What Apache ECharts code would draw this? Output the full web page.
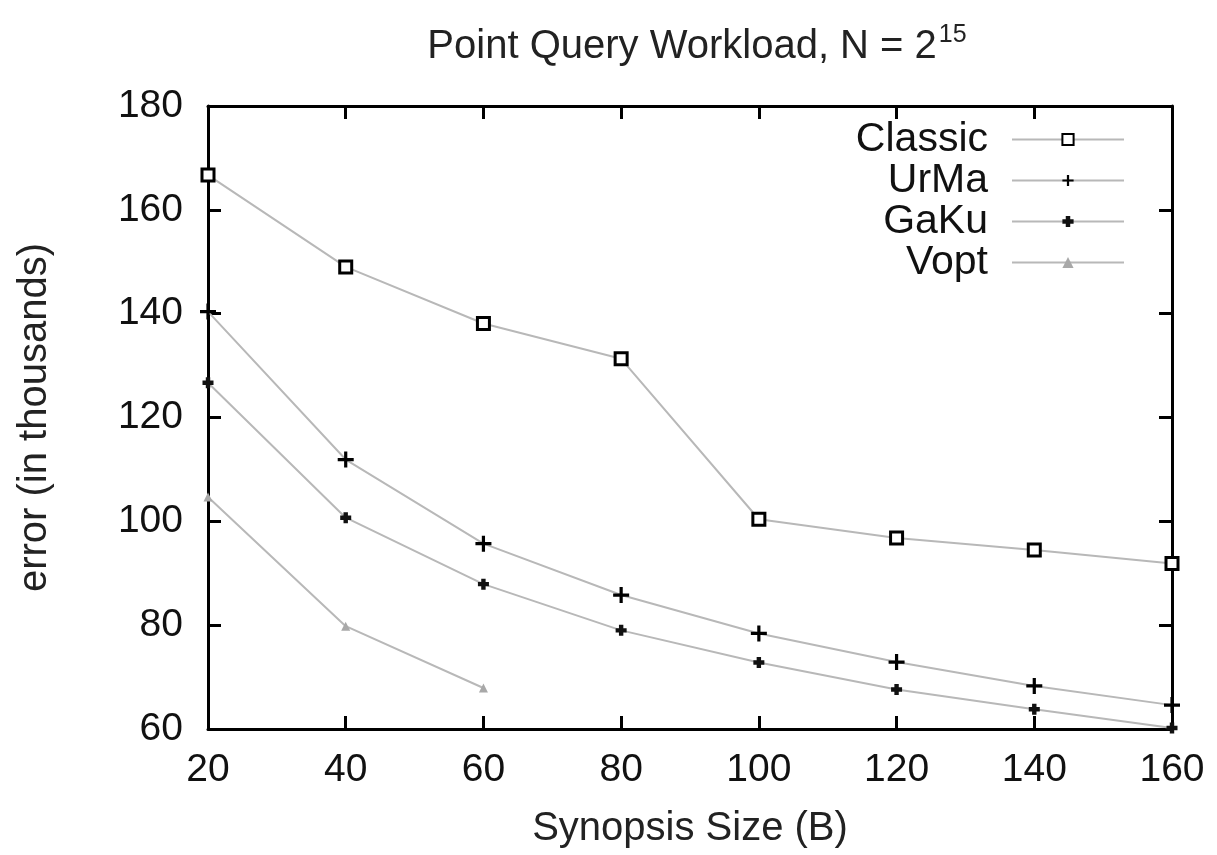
<!DOCTYPE html>
<html><head><meta charset="utf-8">
<script src="https://cdn.jsdelivr.net/npm/echarts@6/dist/echarts.min.js"></script>
<style>html,body{margin:0;padding:0;background:#fff}#c{width:1217px;height:855px}</style>
</head><body><div id="c"></div>
<script>
const xValues = [20, 40, 60, 80, 100, 120, 140, 160];
const classic = [166.7, 149.0, 138.1, 131.3, 100.4, 96.8, 94.5, 91.9];
const urma = [140.4, 111.9, 95.7, 85.8, 78.4, 72.9, 68.3, 64.6];
const gaku = [126.7, 100.7, 87.9, 79.0, 72.8, 67.6, 63.8, 60.2];
const vopt = [104.7, 79.8, 67.9];
const yTicks = [60, 80, 100, 120, 140, 160, 180];

const FONT = '"Liberation Sans", Arial, sans-serif';
const pair = (ys) => ys.map((y, i) => [xValues[i], y]);
const plusPath = 'path://M4,0 H6 V4 H10 V6 H6 V10 H4 V6 H0 V4 H4 Z';
const boldPlusPath = 'path://M3,0 H7 V3 H10 V7 H7 V10 H3 V7 H0 V3 H3 Z';
const lineStyle = { color: '#b8b8b8', width: 2 };

const chart = echarts.init(document.getElementById('c'), null, { renderer: 'canvas' });
const axisCommon = {
  axisLine: { show: true, onZero: false, lineStyle: { color: '#000', width: 3 } },
  axisTick: { show: true, inside: true, length: 13, lineStyle: { color: '#000', width: 3 } },
  splitLine: { show: false }
};
chart.setOption({
  animation: false,
  title: {
    text: '{a|Point Query Workload, N = 2}{s|15}',
    left: 692, top: 18, textAlign: 'center',
    textStyle: {
      rich: {
        a: { fontFamily: FONT, fontSize: 40, fontWeight: 'normal', color: '#222', lineHeight: 48 },
        s: { fontFamily: FONT, fontSize: 25, fontWeight: 'normal', color: '#222', lineHeight: 48, verticalAlign: 'top', padding: [0, 0, 22, 2] }
      }
    }
  },
  legend: {
    right: 87, top: 114, orient: 'vertical', align: 'right',
    itemWidth: 112, itemHeight: 14, itemGap: 0,
    textStyle: { fontFamily: FONT, fontSize: 41, color: '#111', padding: [0, 19, 0, 0], lineHeight: 40 },
    data: ['Classic', 'UrMa', 'GaKu', 'Vopt']
  },
  grid: { left: 208, right: 45, top: 106, bottom: 126 },
  xAxis: [
    Object.assign({}, axisCommon, {
      type: 'value', min: 20, max: 160, interval: 20, position: 'bottom',
      name: 'Synopsis Size (B)', nameLocation: 'middle', nameGap: 80,
      nameTextStyle: { fontFamily: FONT, fontSize: 40, color: '#222' },
      axisLabel: { fontFamily: FONT, fontSize: 39, color: '#111', margin: 22,
        formatter: v => xValues.includes(v) ? String(v) : '' }
    }),
    Object.assign({}, axisCommon, {
      type: 'value', min: 20, max: 160, interval: 20, position: 'top',
      axisLabel: { show: false }
    })
  ],
  yAxis: [
    Object.assign({}, axisCommon, {
      type: 'value', min: 60, max: 180, interval: 20, position: 'left',
      name: 'error (in thousands)', nameLocation: 'middle', nameGap: 153,
      nameTextStyle: { fontFamily: FONT, fontSize: 40, color: '#222' },
      axisLabel: { fontFamily: FONT, fontSize: 39, color: '#111', margin: 25,
        formatter: v => yTicks.includes(v) ? String(v) : '' }
    }),
    Object.assign({}, axisCommon, {
      type: 'value', min: 60, max: 180, interval: 20, position: 'right',
      axisLabel: { show: false }
    })
  ],
  series: [
    { name: 'Classic', type: 'line', data: pair(classic), symbol: 'rect', symbolSize: 12,
      showAllSymbol: true, z: 5,
      itemStyle: { color: '#fff', borderColor: '#000', borderWidth: 3 }, lineStyle },
    { name: 'UrMa', type: 'line', data: pair(urma), symbol: plusPath, symbolSize: 16,
      showAllSymbol: true, z: 4,
      itemStyle: { color: '#000', borderWidth: 0 }, lineStyle },
    { name: 'GaKu', type: 'line', data: pair(gaku), symbol: boldPlusPath, symbolSize: 11,
      showAllSymbol: true, z: 3,
      itemStyle: { color: '#111', borderWidth: 0 }, lineStyle },
    { name: 'Vopt', type: 'line', data: pair(vopt), symbol: 'triangle', symbolSize: 9,
      showAllSymbol: true, z: 2,
      itemStyle: { color: '#a8a8a8', borderWidth: 0 }, lineStyle }
  ]
});
</script>
</body></html>
